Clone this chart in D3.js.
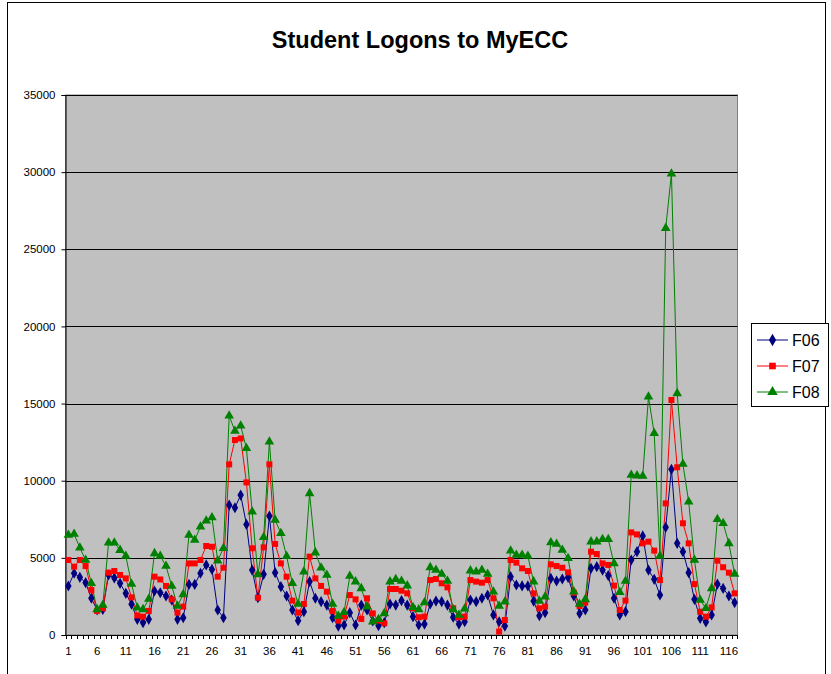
<!DOCTYPE html>
<html>
<head>
<meta charset="utf-8">
<script src="https://cdn.jsdelivr.net/npm/d3@7/dist/d3.min.js"></script>
<style>
  html, body { margin: 0; padding: 0; background: #ffffff; }
  svg { display: block; font-family: Arial, "Liberation Sans", sans-serif; }
</style>
</head>
<body>
<svg id="chart" width="831" height="674"></svg>
<script>
const title = "Student Logons to MyECC";
const categories = d3.range(1, 118);
const xTickLabels = [1, 6, 11, 16, 21, 26, 31, 36, 41, 46, 51, 56, 61, 66, 71, 76, 81, 86, 91, 96, 101, 106, 111, 116];
const yTicks = [0, 5000, 10000, 15000, 20000, 25000, 30000, 35000];
const seriesNames = ["F06", "F07", "F08"];

const F06 = [3175, 4000, 3740, 3390, 2380, 1620, 1660, 3900, 3700, 3350,
  2700, 2000, 1015, 800, 1015, 2850, 2740, 2530, 2270, 1015,
  1120, 3280, 3280, 4000, 4540, 4250, 1620, 1120, 8420, 8250,
  9070, 7170, 4210, 2420, 3930, 7710, 4040, 3130, 2530, 1620,
  930, 1510, 3460, 2380, 2160, 1940, 1120, 580, 650, 1450,
  650, 1940, 1620, 910, 600, 800, 2010, 1940, 2230, 1940,
  1190, 650, 710, 2010, 2200, 2160, 1940, 1150, 710, 860,
  2270, 2160, 2380, 2590, 1300, 860, 580, 3780, 3240, 3180,
  3180, 2200, 1250, 1450, 3670, 3500, 3630, 3740, 2530, 1400,
  1620, 4320, 4430, 4210, 3850, 2380, 1300, 1510, 4860, 5400,
  6420, 4210, 3610, 2590, 6980, 10740, 5940, 5400, 4040, 2310,
  1080, 840, 1300, 3300, 3020, 2530, 2100];

const F07 = [4860, 4430, 4860, 4470, 2920, 1560, 1730, 4040, 4150, 3890,
  3670, 2440, 1270, 1190, 1560, 3780, 3600, 3180, 2310, 1450,
  1840, 4640, 4640, 4860, 5770, 5720, 3780, 4360, 11060, 12640,
  12740, 9890, 5620, 2420, 5680, 11060, 5900, 4640, 3780, 2230,
  1450, 2010, 5080, 3670, 3180, 2810, 1560, 930, 1190, 2590,
  2310, 1040, 2380, 1400, 930, 760, 2980, 2980, 2870, 2700,
  1730, 1150, 1190, 3560, 3630, 3350, 3090, 1730, 1150, 1190,
  3560, 3460, 3390, 3560, 2380, 220, 970, 4860, 4690, 4320,
  4150, 2700, 1730, 1840, 4580, 4470, 4360, 4060, 2740, 1880,
  2100, 5400, 5250, 4640, 4540, 3200, 1620, 2230, 6650, 6520,
  5940, 6050, 5470, 3560, 8530, 15230, 10870, 7240, 5940, 3300,
  1510, 1190, 1790, 4820, 4390, 4040, 2700];

const F08 = [6480, 6540, 5660, 4860, 3350, 1660, 1940, 5980, 5980, 5500,
  5120, 3300, 1770, 1660, 2330, 5290, 5120, 4470, 3170, 1880,
  2630, 6480, 6160, 7020, 7410, 7620, 4820, 5620, 14210, 13220,
  13560, 12100, 7990, 3930, 6330, 12530, 7450, 6590, 5100, 3350,
  2010, 4100, 9180, 5340, 4360, 3890, 2010, 1230, 1470, 3820,
  3460, 3020, 1840, 860, 1015, 1400, 3460, 3610, 3500, 3200,
  1800, 1650, 2100, 4380, 4210, 3950, 3500, 1650, 1300, 1700,
  4170, 4100, 4210, 3950, 2800, 1880, 2160, 5460, 5180, 5180,
  5120, 3460, 2200, 2480, 6000, 5900, 5510, 4970, 2810, 2010,
  2310, 6050, 6050, 6200, 6200, 4640, 2770, 3500, 10370, 10330,
  10300, 15440, 13070, 5120, 26370, 29900, 15660, 11080, 8640, 4860,
  2270, 1730, 3020, 7500, 7240, 5940, 3950];

const seriesData = [F06, F07, F08];
const seriesColors = ["#000080", "#FF0000", "#008000"];
const seriesShapes = [d3.symbolDiamond, d3.symbolSquare, d3.symbolTriangle];
const seriesSizes = [36, 36, 40];

const svg = d3.select("#chart");

// outer chart frame
svg.append("rect")
  .attr("x", 7.5).attr("y", 2.5)
  .attr("width", 818).attr("height", 720)
  .attr("fill", "#ffffff").attr("stroke", "#000000").attr("stroke-width", 1);

// title
svg.append("text")
  .attr("x", 420).attr("y", 48)
  .attr("text-anchor", "middle")
  .attr("font-size", 23.5).attr("font-weight", "bold")
  .attr("fill", "#000")
  .text(title);

const plotLeft = 65.5, plotRight = 737.5, plotTop = 95, plotBottom = 635;

const x = d3.scaleBand().domain(categories).range([plotLeft, plotRight]).paddingInner(0).paddingOuter(0);
const y = d3.scaleLinear().domain([0, 35000]).range([plotBottom, plotTop]);
const cx = c => x(c) + x.bandwidth() / 2;

// plot background
svg.append("rect")
  .attr("x", plotLeft).attr("y", y(35000))
  .attr("width", plotRight - plotLeft).attr("height", y(0) - y(35000))
  .attr("fill", "#C0C0C0").attr("stroke", "#808080").attr("stroke-width", 1);

// gridlines
svg.append("g").selectAll("line")
  .data(yTicks.filter(t => t > 0))
  .join("line")
  .attr("x1", plotLeft).attr("x2", plotRight)
  .attr("y1", d => Math.round(y(d)) + 0.5).attr("y2", d => Math.round(y(d)) + 0.5)
  .attr("stroke", "#000000").attr("stroke-width", 1);

// y axis
const yAxis = d3.axisLeft(y).tickValues(yTicks).tickSize(4).tickPadding(6).tickFormat(d3.format("d"));
const gy = svg.append("g").attr("transform", `translate(${plotLeft},0)`).call(yAxis);
gy.select(".domain").attr("stroke", "#000");
gy.selectAll(".tick line").attr("stroke", "#000");
gy.selectAll(".tick text").attr("font-size", 11.5).attr("fill", "#000")
  .attr("font-family", "Arial, 'Liberation Sans', sans-serif");

// x axis line
svg.append("line")
  .attr("x1", plotLeft).attr("x2", plotRight)
  .attr("y1", plotBottom + 0.5).attr("y2", plotBottom + 0.5)
  .attr("stroke", "#000");

// x boundary ticks (every category)
svg.append("g").selectAll("line")
  .data(categories.concat([null]))
  .join("line")
  .attr("x1", d => d === null ? plotRight : Math.round(x(d)) + 0.5)
  .attr("x2", d => d === null ? plotRight : Math.round(x(d)) + 0.5)
  .attr("y1", plotBottom).attr("y2", plotBottom + 4)
  .attr("stroke", "#000");

// x labels
const xAxis = d3.axisBottom(x).tickValues(xTickLabels).tickSize(0).tickPadding(12);
const gx = svg.append("g").attr("transform", `translate(0,${plotBottom})`).call(xAxis);
gx.select(".domain").remove();
gx.selectAll(".tick text").attr("font-size", 11.5).attr("fill", "#000")
  .attr("font-family", "Arial, 'Liberation Sans', sans-serif");

// series lines and markers
const line = d3.line().x((d, i) => cx(categories[i])).y(d => y(d));
seriesData.forEach((vals, s) => {
  svg.append("path")
    .datum(vals)
    .attr("d", line)
    .attr("fill", "none")
    .attr("stroke", seriesColors[s])
    .attr("stroke-width", 1);
});
seriesData.forEach((vals, s) => {
  svg.append("g").selectAll("path")
    .data(vals)
    .join("path")
    .attr("transform", (d, i) => `translate(${cx(categories[i])},${y(d)})`)
    .attr("d", d3.symbol().type(seriesShapes[s]).size(seriesSizes[s]))
    .attr("fill", seriesColors[s]);
});

// legend
const lg = svg.append("g");
lg.append("rect")
  .attr("x", 751.5).attr("y", 323.5).attr("width", 77).attr("height", 83)
  .attr("fill", "#ffffff").attr("stroke", "#000");
seriesNames.forEach((name, s) => {
  const ly = 340 + s * 26;
  lg.append("line").attr("x1", 757).attr("x2", 788).attr("y1", ly).attr("y2", ly)
    .attr("stroke", seriesColors[s]).attr("stroke-width", 1);
  lg.append("path").attr("transform", `translate(772.5,${ly})`)
    .attr("d", d3.symbol().type(seriesShapes[s]).size(seriesSizes[s] + 8))
    .attr("fill", seriesColors[s]);
  lg.append("text").attr("x", 792).attr("y", ly + 6)
    .attr("font-size", 16).attr("fill", "#000").text(name);
});
</script>
</body>
</html>
